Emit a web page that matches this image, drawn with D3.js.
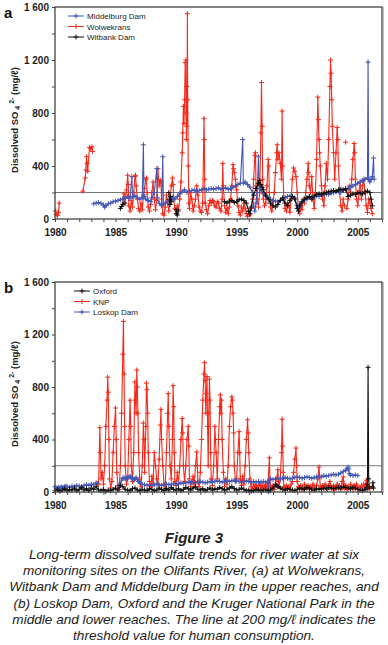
<!DOCTYPE html>
<html>
<head>
<meta charset="utf-8">
<script src="https://cdn.jsdelivr.net/npm/d3@7"></script>
<style>
  body { margin: 0; background: #fff; }
  svg { display: block; font-family: "Liberation Sans", Arial, sans-serif; }
</style>
</head>
<body>
<div id="chart"></div>
<script>
// ---- data (year, dissolved SO4 mg/l), null = gap in record ----

// panel a
const wolwekrans = [
  [1980.05,60],[1980.1,35],[1980.2,25],[1980.3,50],[1980.35,120],[1980.4,null],
  [1982.3,210],[1982.5,310],[1982.55,370],[1982.6,470],[1982.65,420],[1982.7,360],
  [1982.85,540],[1982.95,530],[1983.05,545],[1983.1,510],[1983.2,null],
  [1985.6,150],[1985.7,190],[1985.8,120],[1985.9,220],[1986.0,330],[1986.05,260],[1986.1,100],
  [1986.2,60],[1986.3,140],[1986.4,90],[1986.5,200],[1986.6,320],[1986.65,330],[1986.7,250],
  [1986.8,150],[1986.9,80],[1987.0,60],[1987.1,120],[1987.2,70],[1987.3,180],[1987.4,230],
  [1987.5,300],[1987.55,310],[1987.6,200],[1987.7,90],[1987.8,60],[1987.9,110],[1988.0,200],
  [1988.1,280],[1988.2,150],[1988.3,70],[1988.4,140],[1988.5,380],[1988.55,300],[1988.6,250],
  [1988.7,290],[1988.75,280],[1988.8,150],[1988.9,40],[1989.0,30],[1989.1,90],[1989.2,180],
  [1989.3,120],[1989.4,60],[1989.5,140],[1989.6,250],[1989.7,310],[1989.75,260],[1989.8,150],
  [1989.9,80],[1990.0,40],[1990.1,100],[1990.2,70],[1990.3,150],[1990.4,280],[1990.5,500],
  [1990.55,650],[1990.6,850],[1990.65,720],[1990.7,900],[1990.75,1180],[1990.8,1200],
  [1990.82,800],[1990.85,600],[1990.88,1000],[1990.9,700],[1990.93,1550],[1990.96,900],
  [1991.0,400],[1991.05,120],[1991.1,80],[1991.2,200],[1991.3,150],[1991.4,60],[1991.5,100],
  [1991.6,150],[1991.7,250],[1991.8,180],[1991.9,90],[1992.0,60],[1992.1,50],[1992.2,120],
  [1992.3,760],[1992.33,600],[1992.36,300],[1992.4,120],[1992.5,70],[1992.6,40],[1992.7,100],
  [1992.8,140],[1992.9,120],[1993.0,140],[1993.1,130],[1993.2,100],[1993.3,90],[1993.4,130],
  [1993.5,120],[1993.6,80],[1993.7,60],[1993.8,150],[1993.85,420],[1993.9,250],[1994.0,100],
  [1994.1,50],[1994.2,80],[1994.3,40],[1994.4,90],[1994.5,150],[1994.6,250],[1994.7,410],
  [1994.75,380],[1994.8,350],[1994.9,300],[1995.0,220],[1995.1,100],[1995.2,50],[1995.3,30],
  [1995.4,90],[1995.5,60],[1995.6,120],[1995.7,80],[1995.8,40],[1995.9,20],[1996.0,60],
  [1996.1,30],[1996.2,80],[1996.3,150],[1996.4,300],[1996.5,480],[1996.55,500],[1996.6,250],
  [1996.7,150],[1996.8,90],[1996.9,200],[1997.0,650],[1997.05,1030],[1997.1,700],[1997.15,300],
  [1997.2,150],[1997.3,100],[1997.4,120],[1997.5,250],[1997.6,450],[1997.65,400],[1997.7,200],
  [1997.8,90],[1997.9,60],[1998.0,130],[1998.1,200],[1998.2,350],[1998.3,500],[1998.35,560],
  [1998.4,450],[1998.5,500],[1998.6,420],[1998.7,300],[1998.75,815],[1998.8,400],[1998.9,150],
  [1999.0,80],[1999.1,60],[1999.2,120],[1999.3,100],[1999.4,50],[1999.5,150],[1999.6,300],
  [1999.7,385],[1999.8,360],[1999.9,320],[2000.0,200],[2000.1,80],[2000.2,40],[2000.3,100],
  [2000.4,70],[2000.5,150],[2000.6,120],[2000.7,200],[2000.8,300],[2000.9,420],[2000.95,350],
  [2001.0,250],[2001.1,200],[2001.2,320],[2001.3,150],[2001.4,80],[2001.5,200],[2001.6,450],
  [2001.7,920],[2001.75,750],[2001.8,600],[2001.85,500],[2001.9,400],[2002.0,250],[2002.1,150],
  [2002.2,100],[2002.3,250],[2002.4,420],[2002.5,300],[2002.6,600],[2002.7,1000],[2002.75,1200],
  [2002.8,1100],[2002.85,900],[2002.9,700],[2003.0,500],[2003.1,300],[2003.2,500],[2003.3,690],
  [2003.35,600],[2003.4,400],[2003.5,200],[2003.6,100],[2003.7,60],[2003.8,150],[2003.9,100],
  [2003.95,null],[2004.0,580],[2004.05,null],
  [2004.1,80],[2004.2,150],[2004.3,250],[2004.4,200],[2004.5,300],[2004.6,450],[2004.7,570],
  [2004.75,500],[2004.8,300],[2004.9,150],[2005.0,100],[2005.1,200],[2005.2,280],[2005.3,150],
  [2005.4,250],[2005.5,300],[2005.6,200],[2005.7,100],[2005.8,50],[2005.9,150],[2006.0,120],
  [2006.1,80],[2006.2,40]
];

const middelburg = [
  [1983.2,115],[1983.4,120],[1983.6,125],[1983.8,118],[1984.0,105],[1984.1,90],[1984.2,100],
  [1984.4,115],[1984.6,120],[1984.8,130],[1985.0,135],[1985.2,140],[1985.4,145],[1985.6,150],
  [1985.8,160],[1986.0,170],[1986.1,155],[1986.2,165],[1986.35,320],[1986.4,170],[1986.6,175],
  [1986.8,160],[1987.0,150],[1987.2,160],[1987.3,560],[1987.35,170],[1987.5,150],[1987.7,140],
  [1987.9,130],[1988.0,160],[1988.2,200],[1988.4,380],[1988.45,160],[1988.6,120],[1988.8,100],
  [1988.9,470],[1988.95,110],[1989.1,120],[1989.3,130],[1989.5,140],[1989.7,160],[1989.9,150],
  [1990.1,170],[1990.3,190],[1990.5,210],[1990.7,220],[1990.9,200],[1991.1,210],[1991.3,215],
  [1991.5,220],[1991.7,210],[1991.9,215],[1992.1,220],[1992.3,230],[1992.5,220],[1992.7,225],
  [1992.9,230],[1993.1,225],[1993.3,230],[1993.5,235],[1993.7,225],[1993.9,230],[1994.1,235],
  [1994.3,225],[1994.5,230],[1994.7,240],[1994.9,250],[1995.1,260],[1995.3,270],[1995.5,600],
  [1995.55,270],[1995.7,280],[1995.9,260],[1996.1,240],[1996.3,200],[1996.4,100],[1996.5,60],
  [1996.6,120],[1996.7,200],[1996.8,470],[1996.85,250],[1997.0,220],[1997.2,190],[1997.4,170],
  [1997.6,160],[1997.8,150],[1998.0,140],[1998.2,135],[1998.4,130],[1998.6,140],[1998.8,150],
  [1999.0,160],[1999.2,170],[1999.4,175],[1999.6,170],[1999.8,160],[2000.0,100],[2000.1,85],
  [2000.2,110],[2000.4,130],[2000.6,145],[2000.8,150],[2001.0,160],[2001.2,165],[2001.4,170],
  [2001.6,175],[2001.8,170],[2002.0,180],[2002.2,185],[2002.4,190],[2002.6,185],[2002.8,195],
  [2003.0,200],[2003.2,205],[2003.4,210],[2003.6,200],[2003.8,215],[2004.0,220],[2004.2,230],
  [2004.4,240],[2004.6,250],[2004.8,260],[2005.0,270],[2005.2,280],[2005.4,290],[2005.6,300],
  [2005.8,310],[2005.85,1185],[2005.9,300],[2006.0,280],[2006.1,300],[2006.2,320],[2006.3,460],
  [2006.35,300]
];

const witbank = [
  [1985.4,80],[1985.5,95],[1985.6,110],[1985.7,120],[1985.8,null],
  [1989.4,200],[1989.45,150],[1989.5,110],[1989.55,170],[1989.6,130],[1989.7,null],
  [1990.0,70],[1990.05,40],[1990.1,30],[1990.15,60],[1990.3,null],
  [1994.0,130],[1994.2,120],[1994.4,135],[1994.6,140],[1994.8,125],[1995.0,130],[1995.2,145],
  [1995.4,150],[1995.6,140],[1995.8,120],[1996.0,60],[1996.1,40],[1996.2,90],[1996.4,180],
  [1996.6,230],[1996.8,270],[1996.9,290],[1997.0,260],[1997.1,240],[1997.2,220],[1997.4,180],
  [1997.6,150],[1997.8,120],[1998.0,100],[1998.2,90],[1998.4,110],[1998.6,140],[1998.8,160],
  [1999.0,120],[1999.2,100],[1999.4,140],[1999.6,170],[1999.8,150],[2000.0,80],[2000.1,60],
  [2000.2,100],[2000.4,130],[2000.6,150],[2000.8,160],[2001.0,170],[2001.2,150],[2001.4,175],
  [2001.6,185],[2001.8,190],[2002.0,185],[2002.2,195],[2002.4,200],[2002.6,205],[2002.8,210],
  [2003.0,215],[2003.2,210],[2003.4,220],[2003.6,225],[2003.8,220],[2004.0,230],[2004.2,170],
  [2004.4,180],[2004.6,190],[2004.8,185],[2005.0,200],[2005.2,195],[2005.4,190],[2005.6,205],
  [2005.8,210],[2006.0,200],[2006.1,150],[2006.2,100]
];

// panel b
const knp = [
  [1983.6,60],[1983.7,490],[1983.75,300],[1983.8,100],[1983.9,150],[1984.0,60],[1984.1,200],
  [1984.2,500],[1984.3,700],[1984.35,875],[1984.4,760],[1984.45,400],[1984.5,100],[1984.6,30],
  [1984.7,80],[1984.8,300],[1984.9,500],[1985.0,640],[1985.05,400],[1985.1,150],[1985.2,50],
  [1985.3,20],[1985.4,200],[1985.5,600],[1985.6,1050],[1985.65,1300],[1985.7,900],[1985.75,500],
  [1985.8,200],[1985.9,60],[1986.0,100],[1986.1,400],[1986.2,700],[1986.25,500],[1986.3,200],
  [1986.4,80],[1986.5,300],[1986.6,840],[1986.65,700],[1986.7,600],[1986.75,930],[1986.8,800],
  [1986.85,600],[1986.9,300],[1987.0,100],[1987.1,40],[1987.2,200],[1987.3,525],[1987.35,400],
  [1987.4,150],[1987.5,500],[1987.55,830],[1987.6,780],[1987.65,600],[1987.7,300],[1987.8,80],
  [1987.9,40],[1988.0,120],[1988.1,60],[1988.2,300],[1988.3,200],[1988.4,100],[1988.5,60],
  [1988.6,250],[1988.7,510],[1988.75,630],[1988.8,400],[1988.9,200],[1989.0,60],[1989.1,30],
  [1989.2,300],[1989.3,600],[1989.35,750],[1989.4,500],[1989.5,200],[1989.6,100],[1989.7,400],
  [1989.75,810],[1989.8,650],[1989.85,300],[1989.9,80],[1990.0,50],[1990.1,150],[1990.2,60],
  [1990.3,200],[1990.4,400],[1990.5,560],[1990.55,450],[1990.6,200],[1990.7,80],[1990.8,200],
  [1990.9,400],[1991.0,500],[1991.05,350],[1991.1,100],[1991.2,40],[1991.3,80],[1991.4,120],
  [1991.5,60],[1991.6,200],[1991.7,305],[1991.75,200],[1991.8,80],[1991.9,40],[1992.0,150],
  [1992.1,400],[1992.2,700],[1992.3,900],[1992.35,985],[1992.4,850],[1992.45,600],[1992.5,750],
  [1992.55,880],[1992.6,500],[1992.65,200],[1992.7,600],[1992.75,860],[1992.8,700],[1992.85,300],
  [1992.9,100],[1993.0,50],[1993.1,200],[1993.2,500],[1993.3,300],[1993.4,100],[1993.5,400],
  [1993.6,650],[1993.65,740],[1993.7,600],[1993.75,700],[1993.8,400],[1993.9,150],[1994.0,40],
  [1994.1,100],[1994.2,60],[1994.3,200],[1994.4,500],[1994.5,650],[1994.6,725],[1994.65,700],
  [1994.7,600],[1994.75,450],[1994.8,200],[1994.9,80],[1995.0,100],[1995.1,300],[1995.2,460],
  [1995.25,300],[1995.3,100],[1995.4,50],[1995.5,120],[1995.6,60],[1995.7,200],[1995.8,400],
  [1995.9,550],[1995.95,450],[1996.0,300],[1996.1,100],[1996.2,40],[1996.3,20],[1996.4,60],
  [1996.5,30],[1996.6,50],[1996.7,20],[1996.8,40],[1996.9,60],[1997.0,30],[1997.1,50],
  [1997.2,20],[1997.3,40],[1997.4,60],[1997.5,30],[1997.6,80],[1997.7,260],[1997.75,100],
  [1997.8,40],[1997.9,30],[1998.0,50],[1998.1,20],[1998.2,60],[1998.3,100],[1998.4,170],
  [1998.45,80],[1998.5,40],[1998.6,100],[1998.7,300],[1998.75,555],[1998.8,350],[1998.85,150],
  [1998.9,40],[1999.0,20],[1999.1,50],[1999.2,30],[1999.3,40],[1999.4,20],[1999.5,60],
  [1999.6,80],[1999.7,150],[1999.8,250],[1999.9,335],[1999.95,200],[2000.0,80],[2000.1,40],
  [2000.2,20],[2000.3,50],[2000.4,30],[2000.5,20],[2000.6,60],[2000.7,40],[2000.8,30],
  [2000.9,50],[2001.0,20],[2001.1,40],[2001.2,30],[2001.3,60],[2001.4,40],[2001.5,20],
  [2001.6,50],[2001.7,100],[2001.8,190],[2001.85,120],[2001.9,40],[2002.0,20],[2002.1,50],
  [2002.2,30],[2002.3,60],[2002.4,40],[2002.5,20],[2002.6,50],[2002.7,80],[2002.8,40],
  [2002.9,30],[2003.0,50],[2003.1,20],[2003.2,40],[2003.3,60],[2003.4,30],[2003.5,50],
  [2003.6,20],[2003.7,80],[2003.8,115],[2003.85,60],[2003.9,30],[2004.0,50],[2004.1,20],
  [2004.2,40],[2004.3,30],[2004.4,60],[2004.5,40],[2004.6,20],[2004.7,50],[2004.8,30],
  [2004.9,60],[2005.0,40],[2005.1,20],[2005.2,30],[2005.3,50],[2005.4,20],[2005.5,60],
  [2005.6,40],[2005.7,90],[2005.75,50],[2005.8,20],[2005.9,40],[2006.0,30]
];

const loskop = [
  [1980.0,40],[1980.1,30],[1980.2,25],[1980.3,35],[1980.4,30],[1980.5,40],[1980.6,35],
  [1980.7,30],[1980.8,40],[1980.9,45],[1981.0,40],[1981.2,35],[1981.4,45],[1981.6,40],
  [1981.8,50],[1982.0,45],[1982.2,40],[1982.4,50],[1982.6,55],[1982.8,50],[1983.0,60],
  [1983.2,55],[1983.4,70],[1983.5,65],[1983.6,null],
  [1985.3,40],[1985.4,60],[1985.5,90],[1985.6,105],[1985.7,110],[1985.8,100],[1985.9,105],
  [1986.0,110],[1986.1,115],[1986.2,120],[1986.3,110],[1986.4,100],[1986.5,90],[1986.6,100],
  [1986.7,110],[1986.8,95],[1986.9,80],[1987.0,70],[1987.2,60],[1987.4,55],[1987.6,50],
  [1987.8,55],[1988.0,50],[1988.2,55],[1988.4,60],[1988.6,55],[1988.8,50],[1989.0,55],
  [1989.2,60],[1989.4,55],[1989.6,60],[1989.8,65],[1990.0,60],[1990.2,65],[1990.4,70],
  [1990.6,65],[1990.8,70],[1991.0,75],[1991.2,70],[1991.4,75],[1991.6,70],[1991.8,75],
  [1992.0,80],[1992.2,75],[1992.4,70],[1992.6,75],[1992.8,80],[1993.0,75],[1993.2,80],
  [1993.4,85],[1993.6,80],[1993.8,75],[1994.0,80],[1994.2,85],[1994.4,80],[1994.6,85],
  [1994.8,90],[1995.0,85],[1995.2,80],[1995.4,75],[1995.6,80],[1995.8,85],[1996.0,80],
  [1996.2,75],[1996.4,80],[1996.6,75],[1996.8,80],[1997.0,75],[1997.2,80],[1997.4,75],
  [1997.6,70],[1997.65,0],[1997.7,90],[1997.8,100],[1998.0,95],[1998.2,100],[1998.4,105],
  [1998.6,100],[1998.8,105],[1999.0,110],[1999.2,105],[1999.4,100],[1999.6,105],[1999.8,110],
  [2000.0,115],[2000.2,110],[2000.4,105],[2000.6,110],[2000.8,115],[2001.0,110],[2001.2,105],
  [2001.4,110],[2001.6,115],[2001.8,120],[2002.0,115],[2002.2,125],[2002.4,120],[2002.6,125],
  [2002.8,130],[2003.0,135],[2003.2,130],[2003.4,135],[2003.6,145],[2003.8,155],[2004.0,165],
  [2004.1,175],[2004.2,190],[2004.25,175],[2004.3,140],[2004.4,130],[2004.6,125],[2004.8,130],
  [2005.0,125]
];

const oxford = [
  [1980.0,10],[1980.2,20],[1980.4,5],[1980.6,15],[1980.8,25],[1981.0,10],[1981.2,20],
  [1981.4,15],[1981.6,30],[1981.8,10],[1982.0,20],[1982.2,35],[1982.4,15],[1982.6,25],
  [1982.8,10],[1983.0,30],[1983.2,20],[1983.4,40],[1983.6,15],[1983.8,10],[1984.0,20],
  [1984.2,5],[1984.4,15],[1984.6,10],[1984.8,20],[1985.0,30],[1985.2,15],[1985.4,50],
  [1985.6,40],[1985.8,20],[1986.0,15],[1986.2,10],[1986.4,25],[1986.6,30],[1986.8,15],
  [1987.0,10],[1987.2,20],[1987.4,15],[1987.6,10],[1987.8,25],[1988.0,20],[1988.2,10],
  [1988.4,15],[1988.6,30],[1988.8,20],[1989.0,10],[1989.2,25],[1989.4,15],[1989.6,35],
  [1989.8,20],[1990.0,15],[1990.2,25],[1990.4,10],[1990.6,20],[1990.8,35],[1991.0,25],
  [1991.2,15],[1991.4,30],[1991.6,40],[1991.8,20],[1992.0,15],[1992.2,25],[1992.4,10],
  [1992.6,20],[1992.8,30],[1993.0,15],[1993.2,25],[1993.4,20],[1993.6,35],[1993.8,25],
  [1994.0,15],[1994.2,20],[1994.4,30],[1994.6,40],[1994.8,25],[1995.0,15],[1995.2,20],
  [1995.4,30],[1995.6,20],[1995.8,10],[1996.0,15],[1996.2,5],[1996.4,10],[1996.6,20],
  [1996.8,15],[1997.0,10],[1997.2,15],[1997.4,20],[1997.6,10],[1997.8,15],[1998.0,30],
  [1998.2,55],[1998.3,50],[1998.4,40],[1998.6,30],[1998.8,20],[1999.0,15],[1999.2,25],
  [1999.4,20],[1999.6,15],[1999.8,10],[2000.0,20],[2000.2,30],[2000.4,25],[2000.6,20],
  [2000.8,35],[2001.0,30],[2001.2,20],[2001.4,15],[2001.6,25],[2001.8,20],[2002.0,25],
  [2002.2,30],[2002.4,25],[2002.6,35],[2002.8,30],[2003.0,25],[2003.2,30],[2003.4,35],
  [2003.6,30],[2003.8,40],[2004.0,35],[2004.2,30],[2004.4,25],[2004.6,35],[2004.8,30],
  [2005.0,20],[2005.2,15],[2005.4,10],[2005.6,20],[2005.7,30],[2005.8,60],[2005.85,950],
  [2005.9,100],[2005.95,30],[2006.05,null],
  [2006.2,40],[2006.25,70],[2006.3,30]
];

const threshold = 200;
const yTicks = [0, 200, 400, 600, 800, 1000, 1200, 1400, 1600];
const yearTicks = d3.range(1980, 2008);
const captionTitle = "Figure 3";
const captionLines = [
  "Long-term dissolved sulfate trends for river water at six",
  "monitoring sites on the Olifants River, (a) at Wolwekrans,",
  "Witbank Dam and Middelburg Dam in the upper reaches, and",
  "(b) Loskop Dam, Oxford and the Kruger National Park in the",
  "middle and lower reaches. The line at 200 mg/\u2113 indicates the",
  "threshold value for human consumption."
];

// colours
const RED = "#f5281a", BLUE = "#4356b4", BLACK = "#111111";

// set svg parameters
const width = 388, height = 645;
const svg = d3.select("#chart")
  .append("svg")
    .attr("width", width)
    .attr("height", height)
    .attr("viewBox", `0 0 ${width} ${height}`);

const x = d3.scaleLinear().domain([1980, 2007]).range([55, 382]);

const fmtTick = d => d >= 1000 ? "1 " + String(d - 1000).padStart(3, "0") : String(d);

const cross = "M-2.5,0H2.5M0,-2.5V2.5";

function drawPanel(opts) {
  const y = d3.scaleLinear().domain([0, 1600]).range([opts.bottom, opts.top]);
  const g = svg.append("g");

  // threshold line
  g.append("line")
    .attr("x1", x.range()[0]).attr("x2", x.range()[1])
    .attr("y1", y(threshold)).attr("y2", y(threshold))
    .attr("stroke", "#777").attr("stroke-width", 1);

  const line = d3.line()
    .defined(d => d[1] != null)
    .x(d => x(d[0]))
    .y(d => y(d[1]));

  opts.series.forEach(s => {
    const sg = g.append("g");
    sg.append("path")
      .datum(s.data)
      .attr("fill", "none")
      .attr("stroke", s.color)
      .attr("stroke-width", 1.1)
      .attr("d", line);
    sg.selectAll("path.pt")
      .data(s.data.filter(d => d[1] != null))
      .join("path")
        .attr("class", "pt")
        .attr("d", cross)
        .attr("transform", d => `translate(${x(d[0])},${y(d[1])})`)
        .attr("stroke", s.color)
        .attr("stroke-width", 1);
  });

  // frame
  g.append("rect")
    .attr("x", x.range()[0]).attr("y", opts.top)
    .attr("width", x.range()[1] - x.range()[0])
    .attr("height", opts.bottom - opts.top)
    .attr("fill", "none")
    .attr("stroke", "#444")
    .attr("stroke-width", 1.3);
  g.append("line")
    .attr("x1", x.range()[1] + 1).attr("x2", x.range()[1] + 1)
    .attr("y1", opts.top).attr("y2", opts.bottom + 1)
    .attr("stroke", "#888").attr("stroke-width", 1);

  // axes
  const yAxis = d3.axisLeft(y)
    .tickValues(yTicks)
    .tickSize(3)
    .tickFormat(d => d % 400 === 0 ? fmtTick(d) : "");
  const ya = g.append("g")
    .attr("transform", `translate(${x.range()[0]},0)`)
    .call(yAxis);

  const xAxis = d3.axisBottom(x)
    .tickValues(yearTicks)
    .tickSize(3)
    .tickFormat(d => d % 5 === 0 ? String(d) : "");
  const xa = g.append("g")
    .attr("transform", `translate(0,${opts.bottom})`)
    .call(xAxis);

  [ya, xa].forEach(a => {
    a.select(".domain").remove();
    a.selectAll(".tick line").attr("stroke", "#444");
    a.selectAll(".tick text")
      .attr("font-size", 10)
      .attr("font-weight", "bold")
      .attr("fill", "#222")
      .attr("font-family", "Liberation Sans, Arial, sans-serif");
  });
  ya.selectAll(".tick text").attr("x", -6);
  xa.selectAll(".tick text").attr("y", 10);

  // axis title
  const t = g.append("text")
    .attr("transform", `translate(18,${opts.titleY}) rotate(-90)`)
    .attr("text-anchor", "middle")
    .attr("font-size", 9.5)
    .attr("font-weight", "bold")
    .attr("fill", "#222");
  t.append("tspan").text("Dissolved SO");
  t.append("tspan").attr("font-size", 7).attr("dy", 2).text(" 4");
  t.append("tspan").attr("font-size", 7).attr("dy", -6).text(" 2-");
  t.append("tspan").attr("dy", 4).text(" (mg/\u2113)");

  // panel letter
  g.append("text")
    .attr("x", 4).attr("y", opts.top + 11)
    .attr("font-size", 15)
    .attr("font-weight", "bold")
    .attr("fill", "#111")
    .text(opts.letter);

  // legend
  const lg = g.append("g").attr("transform", `translate(${opts.legendX},${opts.top + 9})`);
  opts.legend.forEach((s, i) => {
    const row = lg.append("g").attr("transform", `translate(0,${i * 10.5})`);
    row.append("line").attr("x1", 0).attr("x2", 16)
      .attr("stroke", s.color).attr("stroke-width", 1);
    row.append("path").attr("d", cross)
      .attr("transform", "translate(8,0)")
      .attr("stroke", s.color);
    row.append("text")
      .attr("x", 19).attr("y", 3)
      .attr("font-size", 8)
      .attr("fill", "#222")
      .text(s.name);
  });
}

drawPanel({
  top: 7, bottom: 219, titleY: 120, letter: "a", legendX: 68,
  series: [
    { name: "Wolwekrans", color: RED, data: wolwekrans },
    { name: "Middelburg Dam", color: BLUE, data: middelburg },
    { name: "Witbank Dam", color: BLACK, data: witbank }
  ],
  legend: [
    { name: "Middelburg Dam", color: BLUE },
    { name: "Wolwekrans", color: RED },
    { name: "Witbank Dam", color: BLACK }
  ]
});

drawPanel({
  top: 282, bottom: 492, titleY: 394, letter: "b", legendX: 74,
  series: [
    { name: "KNP", color: RED, data: knp },
    { name: "Loskop Dam", color: BLUE, data: loskop },
    { name: "Oxford", color: BLACK, data: oxford }
  ],
  legend: [
    { name: "Oxford", color: BLACK },
    { name: "KNP", color: RED },
    { name: "Loskop Dam", color: BLUE }
  ]
});

// caption
svg.append("text")
  .attr("x", width / 2).attr("y", 543)
  .attr("text-anchor", "middle")
  .attr("font-size", 15)
  .attr("font-weight", "bold")
  .attr("font-style", "italic")
  .attr("fill", "#222")
  .text(captionTitle);

svg.append("g")
  .selectAll("text")
  .data(captionLines)
  .join("text")
    .attr("x", width / 2)
    .attr("y", (d, i) => 559 + i * 16.2)
    .attr("text-anchor", "middle")
    .attr("font-size", 13.6)
    .attr("font-style", "italic")
    .attr("fill", "#222")
    .text(d => d);
</script>
</body>
</html>
